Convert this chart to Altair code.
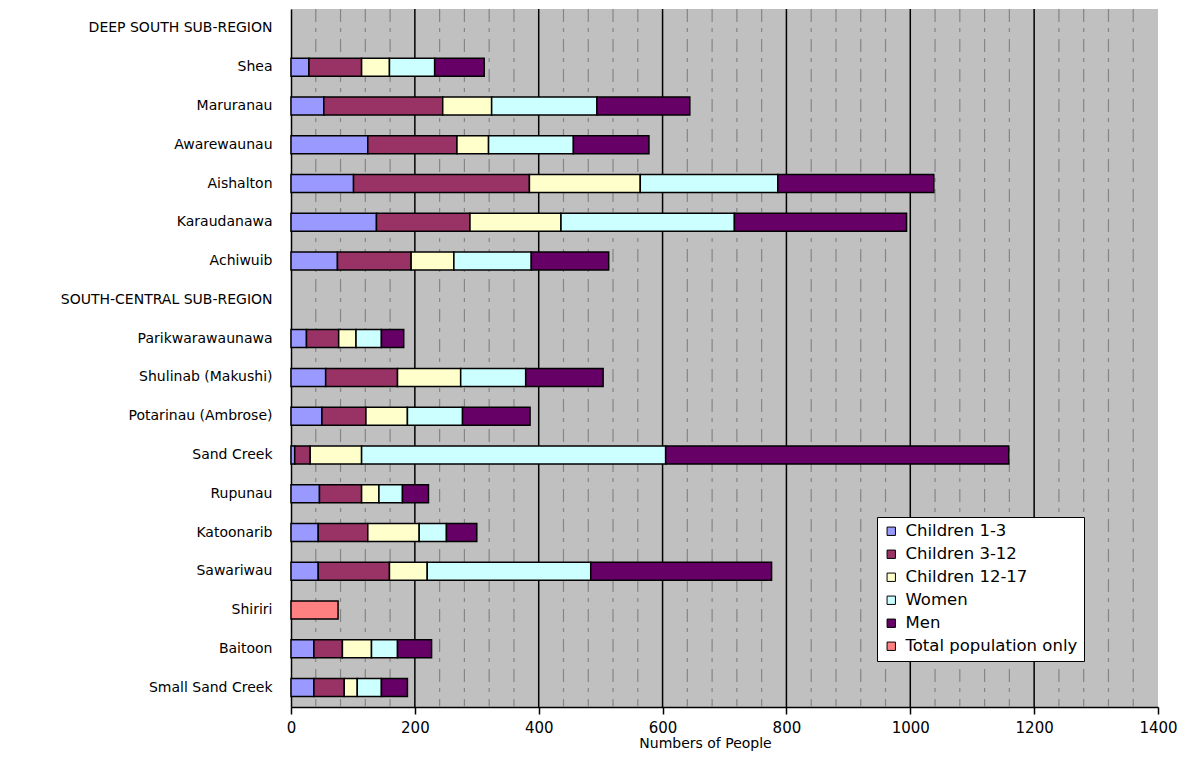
import altair as alt
import pandas as pd

# Rows of the chart, top to bottom (sub-region headers carry no bars)
rows = [
    "DEEP SOUTH SUB-REGION",
    "Shea",
    "Maruranau",
    "Awarewaunau",
    "Aishalton",
    "Karaudanawa",
    "Achiwuib",
    "SOUTH-CENTRAL SUB-REGION",
    "Parikwarawaunawa",
    "Shulinab (Makushi)",
    "Potarinau (Ambrose)",
    "Sand Creek",
    "Rupunau",
    "Katoonarib",
    "Sawariwau",
    "Shiriri",
    "Baitoon",
    "Small Sand Creek",
]

villages = [
    "Shea", "Maruranau", "Awarewaunau", "Aishalton", "Karaudanawa", "Achiwuib",
    "Parikwarawaunawa", "Shulinab (Makushi)", "Potarinau (Ambrose)", "Sand Creek",
    "Rupunau", "Katoonarib", "Sawariwau", "Shiriri", "Baitoon", "Small Sand Creek",
]

children_1_3 = [29, 53, 124, 101, 138, 75, 25, 56, 50, 6, 46, 44, 44, 0, 37, 37]
children_3_12 = [85, 192, 144, 284, 151, 119, 52, 116, 71, 25, 68, 80, 115, 0, 46, 49]
children_12_17 = [45, 79, 51, 179, 147, 69, 28, 102, 67, 83, 28, 83, 61, 0, 47, 21]
women = [73, 170, 137, 222, 280, 125, 41, 105, 89, 491, 38, 44, 264, 0, 42, 39]
men = [80, 150, 122, 252, 278, 125, 36, 125, 109, 554, 42, 49, 292, 0, 55, 42]
total_only = [0, 0, 0, 0, 0, 0, 0, 0, 0, 0, 0, 0, 0, 76, 0, 0]

groups = [
    "Children 1-3",
    "Children 3-12",
    "Children 12-17",
    "Women",
    "Men",
    "Total population only",
]
group_colors = ["#9999FF", "#993366", "#FFFFCC", "#CCFFFF", "#660066", "#FF8080"]
series = [children_1_3, children_3_12, children_12_17, women, men, total_only]

x_ticks = [0, 200, 400, 600, 800, 1000, 1200, 1400]
major_grid = [200, 400, 600, 800, 1000, 1200]
minor_grid = [v for v in range(40, 1400, 40) if v % 200 != 0]

records = []
for gi, (group, vals) in enumerate(zip(groups, series)):
    for place, v in zip(villages, vals):
        if v > 0:
            records.append({"place": place, "group": group, "order": gi, "people": v})
df = pd.DataFrame(records)

FONT = "DejaVu Sans"

x_scale = alt.Scale(domain=[0, 1400], nice=False, zero=True)

minor = (
    alt.Chart(pd.DataFrame({"v": minor_grid}))
    .mark_rule(color="#858585", strokeWidth=1.2, strokeDash=[13, 6, 4, 7])
    .encode(x=alt.X("v:Q", scale=x_scale))
)

major = (
    alt.Chart(pd.DataFrame({"v": major_grid}))
    .mark_rule(color="#000000", strokeWidth=1.5)
    .encode(x=alt.X("v:Q", scale=x_scale))
)

bars = (
    alt.Chart(df)
    .mark_bar(size=18, stroke="#000000", strokeWidth=1.5)
    .encode(
        x=alt.X(
            "people:Q",
            stack="zero",
            scale=x_scale,
            title="Numbers of People",
            axis=alt.Axis(
                values=x_ticks,
                format="d",
                grid=False,
                labelFlush=False,
                domainColor="#000000",
                domainWidth=1.5,
                tickColor="#000000",
                tickWidth=1.5,
                tickSize=7,
                labelFont=FONT,
                labelFontSize=15,
                labelColor="#000000",
                labelPadding=6,
                titleFont=FONT,
                titleFontSize=14,
                titleFontWeight="normal",
                titleColor="#000000",
                titlePadding=1,
                titleX=414,
                titleAlign="center",
            ),
        ),
        y=alt.Y(
            "place:N",
            scale=alt.Scale(domain=rows),
            sort=rows,
            title=None,
            axis=alt.Axis(
                ticks=False,
                domainColor="#000000",
                domainWidth=1.5,
                labelFont=FONT,
                labelFontSize=14,
                labelColor="#000000",
                labelPadding=19,
                labelLimit=400,
            ),
        ),
        color=alt.Color(
            "group:N",
            scale=alt.Scale(domain=groups, range=group_colors),
            title=None,
            legend=alt.Legend(
                orient="none",
                legendX=586,
                legendY=508,
                fillColor="#FFFFFF",
                strokeColor="#000000",
                padding=6,
                symbolType="square",
                symbolSize=70,
                symbolStrokeColor="#000000",
                symbolStrokeWidth=1,
                labelFont=FONT,
                labelFontSize=16.5,
                labelColor="#000000",
                labelOffset=6,
                rowPadding=6,
                labelLimit=300,
            ),
        ),
        order=alt.Order("order:Q"),
    )
)

chart = (
    alt.layer(minor, major, bars)
    .properties(
        width=867,
        height=698,
        autosize=alt.AutoSizeParams(type="none"),
        padding={"left": 291, "top": 9, "right": 36, "bottom": 54},
        background="#FFFFFF",
    )
    .configure_view(fill="#C0C0C0", strokeWidth=0)
)

chart.save("out.html", embed_options={"renderer": "svg", "actions": False})
